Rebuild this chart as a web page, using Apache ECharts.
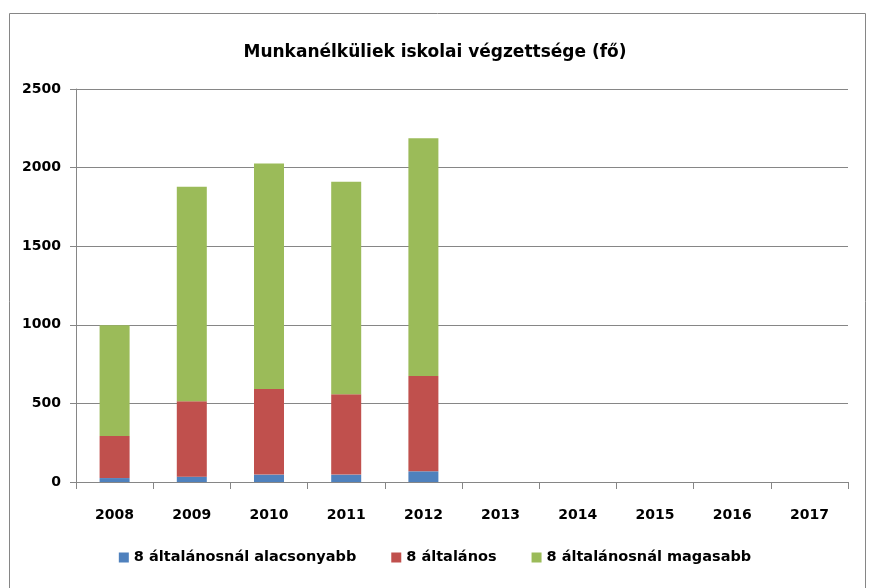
<!DOCTYPE html>
<html>
<head>
<meta charset="utf-8">
<script src="https://cdn.jsdelivr.net/npm/echarts@6/dist/echarts.min.js"></script>
<style>html,body{margin:0;padding:0;background:#fff;}#c{width:870px;height:588px;}</style>
</head>
<body>
<div id="c"></div>
<script>
const categories = ['2008','2009','2010','2011','2012','2013','2014','2015','2016','2017'];
const seriesNames = ['8 általánosnál alacsonyabb','8 általános','8 általánosnál magasabb'];
const lowerValues = [25, 34, 47, 47, 68, null, null, null, null, null];
const primaryValues = [267, 480, 544, 512, 607, null, null, null, null, null];
const higherValues = [705, 1364, 1435, 1351, 1512, null, null, null, null, null];
const yTicks = [0, 500, 1000, 1500, 2000, 2500];

const FONT = '"DejaVu Sans", sans-serif';
const colors = ['#4f81bd', '#c0504d', '#9bbb59'];
const chart = echarts.init(document.getElementById('c'), null, {renderer: 'canvas'});
const mk = (name, data, i) => ({
  name, type: 'bar', stack: 'total', data, barWidth: 30,
  itemStyle: {color: colors[i]}, emphasis: {disabled: true}
});
chart.setOption({
  animation: false,
  color: colors,
  graphic: [{
    type: 'rect', shape: {x: 9.5, y: 13.5, width: 856, height: 600},
    style: {fill: 'none', stroke: '#868686', lineWidth: 1}, silent: true, z: -1
  }],
  title: {
    text: 'Munkanélküliek iskolai végzettsége (fő)', left: 'center', top: 39,
    textStyle: {fontFamily: FONT, fontWeight: 'bold', fontSize: 17, color: '#000'}
  },
  legend: {
    bottom: 18, left: 'center', itemWidth: 10, itemHeight: 10, itemGap: 35,
    icon: 'rect', data: seriesNames,
    textStyle: {fontFamily: FONT, fontWeight: 'bold', fontSize: 14.5, color: '#000'}
  },
  grid: {left: 76, right: 22, top: 89, bottom: 106, containLabel: false},
  xAxis: {
    type: 'category', data: categories,
    axisLine: {lineStyle: {color: '#868686', width: 1}},
    axisTick: {show: true, length: 7, lineStyle: {color: '#868686'}},
    axisLabel: {margin: 26, fontFamily: FONT, fontWeight: 'bold', fontSize: 14, color: '#000'}
  },
  yAxis: {
    type: 'value', min: yTicks[0], max: yTicks[yTicks.length - 1], interval: 500,
    axisLine: {show: true, lineStyle: {color: '#868686'}},
    axisTick: {show: true, length: 6, lineStyle: {color: '#868686'}},
    splitLine: {lineStyle: {color: '#868686', width: 1}},
    axisLabel: {margin: 15, fontFamily: FONT, fontWeight: 'bold', fontSize: 14, color: '#000',
      formatter: v => String(v)}
  },
  series: [mk(seriesNames[0], lowerValues, 0), mk(seriesNames[1], primaryValues, 1), mk(seriesNames[2], higherValues, 2)]
});
</script>
</body>
</html>
